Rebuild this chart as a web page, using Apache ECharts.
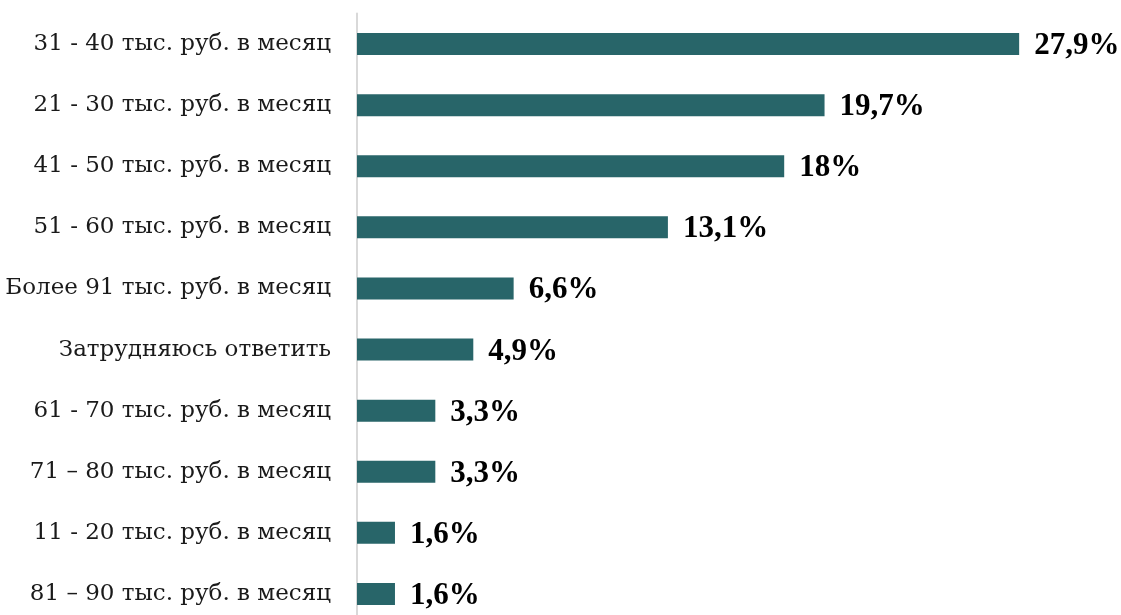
<!DOCTYPE html>
<html>
<head>
<meta charset="utf-8">
<script src="https://cdn.jsdelivr.net/npm/echarts@6/dist/echarts.min.js"></script>
<style>
  html, body { margin: 0; padding: 0; background: #fff; }
  #main { width: 1121px; height: 615px; }
</style>
</head>
<body>
<div id="main"></div>
<script>
// categories top to bottom
var categories = [
	'31 - 40 тыс. руб. в месяц',
	'21 - 30 тыс. руб. в месяц',
	'41 - 50 тыс. руб. в месяц',
	'51 - 60 тыс. руб. в месяц',
	'Более 91 тыс. руб. в месяц',
	'Затрудняюсь ответить',
	'61 - 70 тыс. руб. в месяц',
	'71 – 80 тыс. руб. в месяц',
	'11 - 20 тыс. руб. в месяц',
	'81 – 90 тыс. руб. в месяц'
];
var values = [27.9, 19.7, 18, 13.1, 6.6, 4.9, 3.3, 3.3, 1.6, 1.6];

var myChart = echarts.init(document.getElementById('main'));

var option = {
	animation: false,
	grid: {
		left: 357,
		top: 13.5,
		width: 712,
		height: 611,
		outerBoundsMode: 'none'
	},
	xAxis: {
		type: 'value',
		min: 0,
		max: 30,
		show: false
	},
	yAxis: {
		type: 'category',
		inverse: true,
		data: categories,
		axisLine: { show: true, lineStyle: { color: '#d9d9d9', width: 2 } },
		axisTick: { show: false },
		axisLabel: {
			margin: 26,
			color: '#1a1a1a',
			fontFamily: 'DejaVu Serif',
			fontSize: 23
		}
	},
	series: [
		{
			type: 'bar',
			data: values,
			barWidth: 22,
			itemStyle: { color: '#286569' },
			label: {
				show: true,
				position: 'right',
				distance: 15,
				color: '#000',
				fontFamily: 'Liberation Serif',
				fontWeight: 'bold',
				fontSize: 31,
				offset: [0, 2],
				formatter: function(p) {
					return String(p.value).replace('.', ',') + '%';
				}
			}
		}
	]
};

myChart.setOption(option);
</script>
</body>
</html>
